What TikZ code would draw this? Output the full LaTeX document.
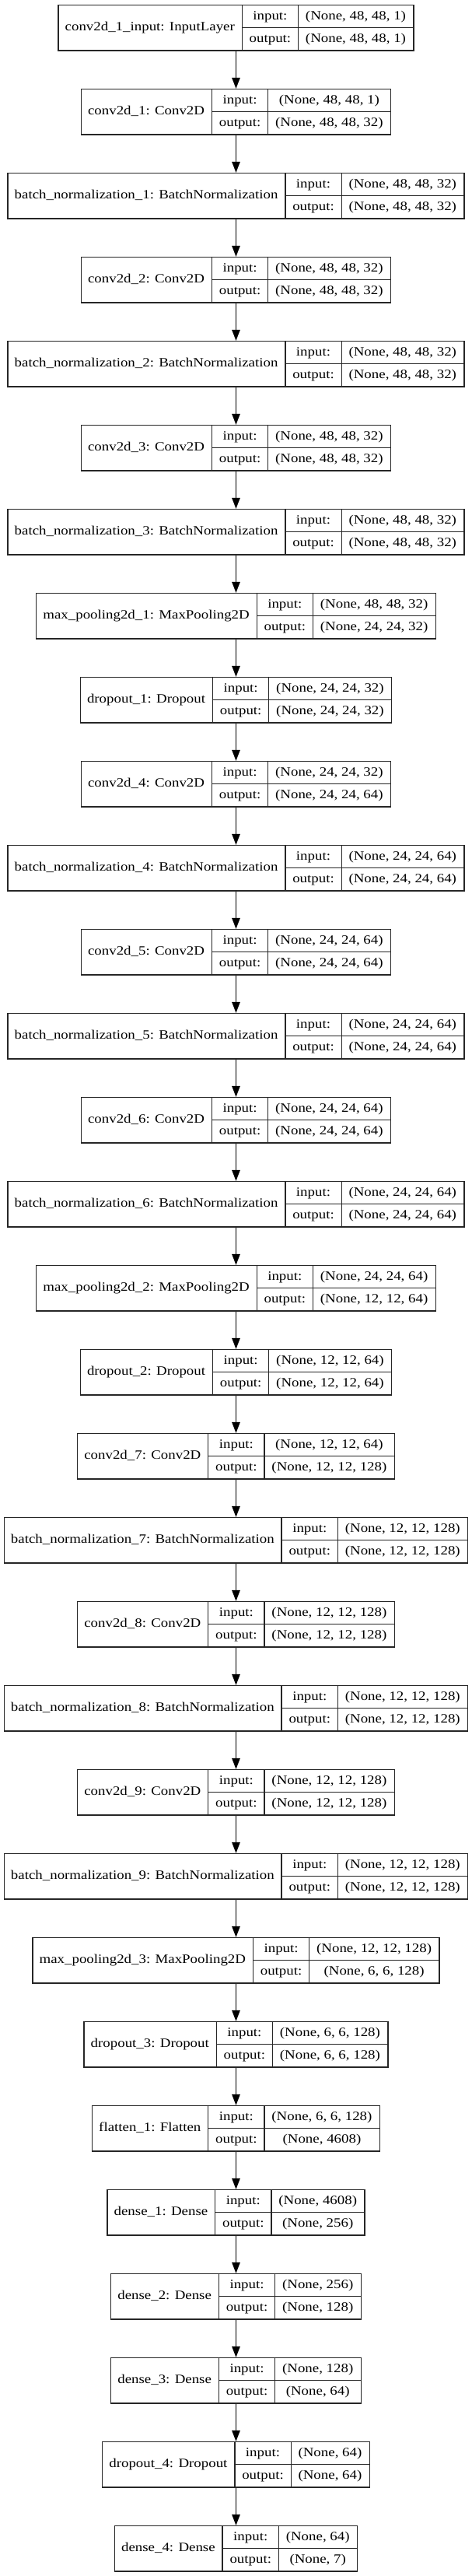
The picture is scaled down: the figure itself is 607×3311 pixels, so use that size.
\documentclass[tikz,border=0pt]{standalone}
\usepackage{fontspec}
\usepackage{graphicx}
\setmainfont{Liberation Serif}
\usetikzlibrary{arrows.meta}
\newlength\Lw \newlength\Iw \newlength\Sw \newlength\Tw
\newcommand\lfont{\fontsize{16.35}{19.6}\selectfont}
\newcommand\st[1]{\scalebox{1.155}[1]{\lfont #1}}
\tikzset{
 rec/.style={draw=black!85, line width=1.3pt, inner sep=0pt, minimum height=58.5pt, rectangle},
 cell/.style={inner sep=0pt, text height=0.84em, text depth=0pt, font=\lfont, anchor=center},
 sepline/.style={draw=black!85, line width=1.3pt},
 conn/.style={draw=black, line width=1.3pt, -{Triangle[length=14pt,width=10.5pt]}},
}
\newcommand\layer[5]{%
  \pgfinterruptpicture
  \settowidth\Lw{\normalfont\lfont #3}\global\Lw=\Lw
  \settowidth\Iw{\normalfont\lfont output:}\global\Iw=\Iw
  \settowidth\Sw{\normalfont\lfont #4}\settowidth\Tw{\normalfont\lfont #5}%
  \ifdim\Tw>\Sw \Sw=\Tw\fi
  \global\Sw=\Sw
  \endpgfinterruptpicture
  \pgfmathsetlengthmacro\cL{1.155*\Lw+18.8pt}%
  \pgfmathsetlengthmacro\cI{1.155*\Iw+18.8pt}%
  \pgfmathsetlengthmacro\cS{1.155*\Sw+18.8pt}%
  \pgfmathsetlengthmacro\cW{\cL+\cI+\cS}%
  \pgfmathsetlengthmacro\cLI{\cL+\cI}%
  \pgfmathsetlengthmacro\cLh{\cL/2}%
  \pgfmathsetlengthmacro\cIm{\cL+\cI/2}%
  \pgfmathsetlengthmacro\cSm{\cL+\cI+\cS/2}%
  \pgfmathsetlengthmacro\cy{35.75pt+108pt*#2}%
  \node[rec, minimum width=\cW] (#1) at (303.5pt,-\cy) {};
  \draw[sepline] ([xshift=\cL]#1.north west) -- ([xshift=\cL]#1.south west);
  \draw[sepline] ([xshift=\cLI]#1.north west) -- ([xshift=\cLI]#1.south west);
  \draw[sepline] ([xshift=\cL]#1.west) -- (#1.east);
  \node[cell] (#1-l) at ([xshift=\cLh]#1.west) {\st{#3}};
  \node[cell] (#1-i) at ([xshift=\cIm,yshift=14.625pt]#1.west) {\st{input:}};
  \node[cell] (#1-o) at ([xshift=\cIm,yshift=-14.625pt]#1.west) {\st{output:}};
  \node[cell] (#1-is) at ([xshift=\cSm,yshift=14.625pt]#1.west) {\st{#4}};
  \node[cell] (#1-os) at ([xshift=\cSm,yshift=-14.625pt]#1.west) {\st{#5}};
}
\begin{document}
\begin{tikzpicture}
\useasboundingbox[fill=white] (0pt,0pt) rectangle (607pt,-3311pt);
\layer{L0}{0}{conv2d\_1\_input: InputLayer}{(None, 48, 48, 1)}{(None, 48, 48, 1)}
\layer{L1}{1}{conv2d\_1: Conv2D}{(None, 48, 48, 1)}{(None, 48, 48, 32)}
\layer{L2}{2}{batch\_normalization\_1: BatchNormalization}{(None, 48, 48, 32)}{(None, 48, 48, 32)}
\layer{L3}{3}{conv2d\_2: Conv2D}{(None, 48, 48, 32)}{(None, 48, 48, 32)}
\layer{L4}{4}{batch\_normalization\_2: BatchNormalization}{(None, 48, 48, 32)}{(None, 48, 48, 32)}
\layer{L5}{5}{conv2d\_3: Conv2D}{(None, 48, 48, 32)}{(None, 48, 48, 32)}
\layer{L6}{6}{batch\_normalization\_3: BatchNormalization}{(None, 48, 48, 32)}{(None, 48, 48, 32)}
\layer{L7}{7}{max\_pooling2d\_1: MaxPooling2D}{(None, 48, 48, 32)}{(None, 24, 24, 32)}
\layer{L8}{8}{dropout\_1: Dropout}{(None, 24, 24, 32)}{(None, 24, 24, 32)}
\layer{L9}{9}{conv2d\_4: Conv2D}{(None, 24, 24, 32)}{(None, 24, 24, 64)}
\layer{L10}{10}{batch\_normalization\_4: BatchNormalization}{(None, 24, 24, 64)}{(None, 24, 24, 64)}
\layer{L11}{11}{conv2d\_5: Conv2D}{(None, 24, 24, 64)}{(None, 24, 24, 64)}
\layer{L12}{12}{batch\_normalization\_5: BatchNormalization}{(None, 24, 24, 64)}{(None, 24, 24, 64)}
\layer{L13}{13}{conv2d\_6: Conv2D}{(None, 24, 24, 64)}{(None, 24, 24, 64)}
\layer{L14}{14}{batch\_normalization\_6: BatchNormalization}{(None, 24, 24, 64)}{(None, 24, 24, 64)}
\layer{L15}{15}{max\_pooling2d\_2: MaxPooling2D}{(None, 24, 24, 64)}{(None, 12, 12, 64)}
\layer{L16}{16}{dropout\_2: Dropout}{(None, 12, 12, 64)}{(None, 12, 12, 64)}
\layer{L17}{17}{conv2d\_7: Conv2D}{(None, 12, 12, 64)}{(None, 12, 12, 128)}
\layer{L18}{18}{batch\_normalization\_7: BatchNormalization}{(None, 12, 12, 128)}{(None, 12, 12, 128)}
\layer{L19}{19}{conv2d\_8: Conv2D}{(None, 12, 12, 128)}{(None, 12, 12, 128)}
\layer{L20}{20}{batch\_normalization\_8: BatchNormalization}{(None, 12, 12, 128)}{(None, 12, 12, 128)}
\layer{L21}{21}{conv2d\_9: Conv2D}{(None, 12, 12, 128)}{(None, 12, 12, 128)}
\layer{L22}{22}{batch\_normalization\_9: BatchNormalization}{(None, 12, 12, 128)}{(None, 12, 12, 128)}
\layer{L23}{23}{max\_pooling2d\_3: MaxPooling2D}{(None, 12, 12, 128)}{(None, 6, 6, 128)}
\layer{L24}{24}{dropout\_3: Dropout}{(None, 6, 6, 128)}{(None, 6, 6, 128)}
\layer{L25}{25}{flatten\_1: Flatten}{(None, 6, 6, 128)}{(None, 4608)}
\layer{L26}{26}{dense\_1: Dense}{(None, 4608)}{(None, 256)}
\layer{L27}{27}{dense\_2: Dense}{(None, 256)}{(None, 128)}
\layer{L28}{28}{dense\_3: Dense}{(None, 128)}{(None, 64)}
\layer{L29}{29}{dropout\_4: Dropout}{(None, 64)}{(None, 64)}
\layer{L30}{30}{dense\_4: Dense}{(None, 64)}{(None, 7)}
\foreach \a [count=\b] in {0,...,29} {\draw[conn] (L\a.south) -- (L\b.north);}
\end{tikzpicture}
\end{document}
